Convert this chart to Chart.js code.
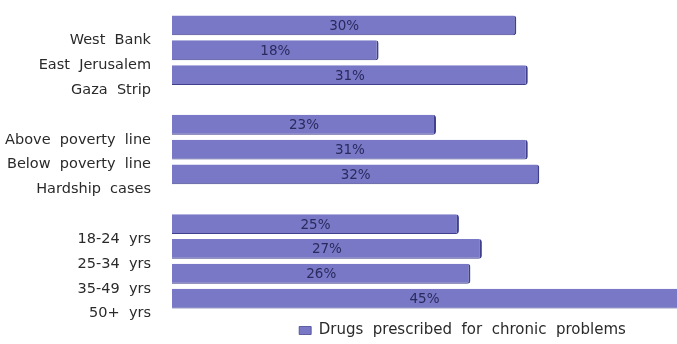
<!DOCTYPE html>
<html>
<head>
<meta charset="utf-8">
<script src="https://cdn.jsdelivr.net/npm/chart.js@4/dist/chart.umd.min.js"></script>
<style>
  html, body { margin: 0; padding: 0; background: #fff; }
  #wrap { width: 677px; height: 344px; }
</style>
</head>
<body>
<div id="wrap"><canvas id="chart"></canvas></div>
<script>
// Data
const regionLabels = ['West  Bank', 'East  Jerusalem', 'Gaza  Strip'];
const regionValues = [30, 18, 31];
const povertyLabels = ['Above  poverty  line', 'Below  poverty  line', 'Hardship  cases'];
const povertyValues = [23, 31, 32];
const ageLabels = ['18-24  yrs', '25-34  yrs', '35-49  yrs', '50+  yrs'];
const ageValues = [25, 27, 26, 45];
const seriesName = 'Drugs  prescribed  for  chronic  problems';

// empty slot between the groups
const labels = [...regionLabels, '', ...povertyLabels, '', ...ageLabels];
const values = [...regionValues, null, ...povertyValues, null, ...ageValues];

const fontFamily = '"DejaVu Sans", Verdana, sans-serif';

// percent text in the middle of each bar
const valueLabels = {
  id: 'valueLabels',
  afterDatasetsDraw(chart) {
    const ctx = chart.ctx;
    const area = chart.chartArea;
    const meta = chart.getDatasetMeta(0);
    ctx.save();
    ctx.font = '13.5px ' + fontFamily;
    ctx.fillStyle = '#2a2a5e';
    ctx.textAlign = 'center';
    ctx.textBaseline = 'middle';
    meta.data.forEach((bar, i) => {
      const v = values[i];
      if (v == null) return;
      const end = Math.min(bar.x, area.right);
      ctx.fillText(v + '%', (end + bar.base) / 2, bar.y + 1);
    });
    ctx.restore();
  }
};

// legend sits right of centre and a bit lower in the original
const legendShift = {
  id: 'legendShift',
  afterLayout(chart) {
    chart.legend.left += 124;
    chart.legend.right += 124;
    chart.legend.top += 4;
    chart.legend.bottom += 4;
  }
};

new Chart(document.getElementById('chart'), {
  type: 'bar',
  data: {
    labels: labels,
    datasets: [{
      label: seriesName,
      data: values,
      backgroundColor: '#7878c6',
      borderColor: '#40408c',
      borderWidth: { right: 2, bottom: 1, top: 0, left: 0 },
      borderRadius: { topRight: 3, bottomRight: 3 },
      borderSkipped: 'left',
      barPercentage: 0.8,
      categoryPercentage: 1
    }]
  },
  options: {
    indexAxis: 'y',
    responsive: true,
    maintainAspectRatio: false,
    animation: false,
    layout: { padding: { top: 13, bottom: 0, left: 0, right: 0 } },
    scales: {
      x: { display: false, min: 0, max: 44 },
      y: {
        grid: { display: false, drawTicks: false },
        border: { display: false },
        afterFit(scale) {
          scale.width = 172;
          scale.paddingTop = 0;
          scale.paddingBottom = 0;
        },
        ticks: {
          padding: 21,
          labelOffset: 15,
          color: '#2a2a2a',
          font: { family: fontFamily, size: 14.5 }
        }
      }
    },
    plugins: {
      legend: {
        position: 'bottom',
        labels: {
          boxWidth: 12,
          boxHeight: 8,
          padding: 8,
          color: '#2a2a2a',
          font: { family: fontFamily, size: 15 }
        }
      },
      tooltip: { enabled: false }
    }
  },
  plugins: [valueLabels, legendShift]
});
</script>
</body>
</html>
